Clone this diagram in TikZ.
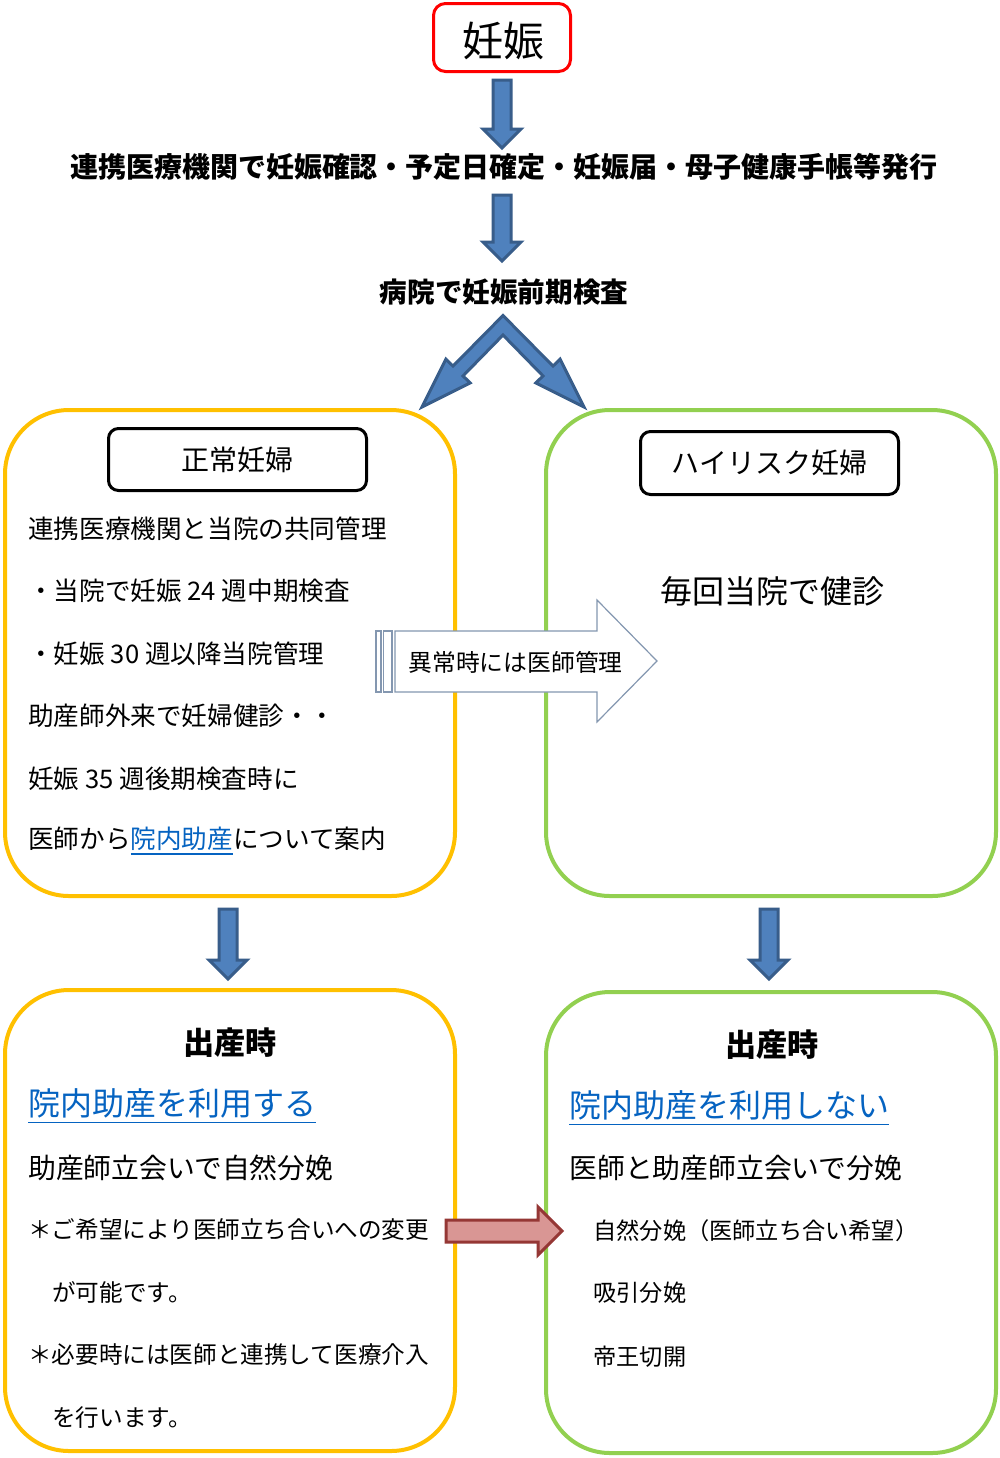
\documentclass[tikz,border=0pt]{standalone}
\usepackage{fontspec}
\setmainfont{Noto Sans CJK JP}
\definecolor{orangeb}{HTML}{FFC000}
\definecolor{greenb}{HTML}{92D050}
\definecolor{bluef}{HTML}{4F81BD}
\definecolor{blued}{HTML}{385D8A}
\definecolor{linkc}{HTML}{0563C1}
\definecolor{redf}{HTML}{D99694}
\definecolor{redd}{HTML}{953735}
\definecolor{grayarrow}{HTML}{8497B0}
\newcommand\fsz[1]{\fontsize{#1}{#1}\selectfont}
\newcommand\ulx[2]{\setbox0\hbox{#2}\rlap{\raisebox{-#1}{\rule{\wd0}{0.9pt}}}\box0}
\newcommand\bluedown[3]{%
  \draw[blockarrow] (#1-9,#2) -- (#1+9,#2) -- (#1+9,#3-19) -- (#1+19,#3-19) -- (#1,#3)
    -- (#1-19,#3-19) -- (#1-9,#3-19) -- cycle;}
\begin{document}
\begin{tikzpicture}[x=0.5pt,y=-0.5pt,
  bigbox/.style={draw, line width=2pt, rounded corners=32pt, minimum width=225pt, inner sep=0pt},
  labelbox/.style={draw=black, line width=1.5pt, rounded corners=5pt, minimum width=129pt, inner sep=0pt, font=\fsz{14}},
  blockarrow/.style={fill=bluef, draw=blued, line width=1.5pt, line join=miter},
  txt/.style={anchor=west, inner sep=0pt},
  ctxt/.style={anchor=center, inner sep=0pt},
  link/.style={text=linkc}]
\useasboundingbox (0,0) rectangle (1000,1458);
\fill[white] (0,0) rectangle (1000,1458);

% top
\node[draw=red, line width=1.5pt, rounded corners=6pt, minimum width=68.5pt, minimum height=34pt, inner sep=0pt] (top) at (502,37.5) {};
\node[ctxt, font=\fsz{20.5}] (toptext) at (503,41) {妊娠};
\bluedown{502}{80}{148}
\node[ctxt, font=\fsz{14}\bfseries] (l1) at (504,167) {連携医療機関で妊娠確認・予定日確定・妊娠届・母子健康手帳等発行};
\bluedown{502}{195}{261}
\node[ctxt, font=\fsz{13.8}\bfseries] (l2) at (504,292) {病院で妊娠前期検査};

% chevron arrow
\draw[blockarrow] (503,315.5) -- (553,366.1) -- (560.1,359.1) -- (584,407) -- (535.9,382.9)
  -- (543,375.9) -- (503,335) -- (463,375.9) -- (470.1,382.9) -- (422,407)
  -- (445.9,359.1) -- (453,366.1) -- cycle;

% big boxes
\node[bigbox, draw=orangeb, minimum height=243pt] (lbox) at (230,653) {};
\node[bigbox, draw=greenb, minimum height=243pt] (rbox) at (771,653) {};
\node[bigbox, draw=orangeb, minimum height=230.5pt] (lbox2) at (230,1220.5) {};
\node[bigbox, draw=greenb, minimum height=230.5pt] (rbox2) at (771,1222.5) {};

\node[labelbox, minimum height=31pt] (normal) at (237.5,459.5) {\raisebox{-1pt}{正常妊婦}};
\node[labelbox, minimum height=31.5pt] (high) at (769.5,463) {\raisebox{-1pt}{ハイリスク妊婦}};

% left top text
\begin{scope}[every node/.style={txt, font=\fsz{12.8}}]
\node (a1) at (28,529) {連携医療機関と当院の共同管理};
\node (a2) at (28,591) {・当院で妊娠 24 週中期検査};
\node (a3) at (28,654) {・妊娠 30 週以降当院管理};
\node (a4) at (28,716) {助産師外来で妊婦健診・・};
\node (a5) at (28,779) {妊娠 35 週後期検査時に};
\node (a6) at (28,841) {医師から{\color{linkc}\ulx{3pt}{院内助産}}について案内};
\end{scope}
\node[ctxt, font=\fsz{16}] (every) at (772,591) {毎回当院で健診};

% middle arrow
\draw[grayarrow, fill=white, line width=0.6pt] (376,631) rectangle (381,692);
\draw[grayarrow, fill=white, line width=0.6pt] (383.5,631) rectangle (392,692);
\draw[grayarrow, fill=white, line width=0.6pt, line join=miter] (395,631) -- (597,631) -- (597,600)
  -- (657,661) -- (597,722) -- (597,692) -- (395,692) -- cycle;
\node[txt, font=\fsz{11.9}] (abn) at (408,662) {異常時には医師管理};

% down arrows
\bluedown{228}{909}{979}
\bluedown{769}{909}{979}

% bottom left text
\node[ctxt, font=\fsz{15.6}\bfseries] (b0) at (230,1043) {出産時};
\node[txt, font=\fsz{16}, link] (b1) at (28,1106) {\ulx{4pt}{院内助産を利用する}};
\node[txt, font=\fsz{13.9}] (b2) at (28,1168) {助産師立会いで自然分娩};
\begin{scope}[every node/.style={txt, font=\fsz{11.8}}]
\node (b3) at (28,1230) {＊ご希望により医師立ち合いへの変更};
\node (b4) at (52,1292) {が可能です。};
\node (b5) at (28,1355) {＊必要時には医師と連携して医療介入};
\node (b6) at (52,1418) {を行います。};
\end{scope}

% bottom right text
\node[ctxt, font=\fsz{15.6}\bfseries] (c0) at (772,1045) {出産時};
\node[txt, font=\fsz{16}, link] (c1) at (569,1108) {\ulx{4pt}{院内助産を利用しない}};
\node[txt, font=\fsz{13.9}] (c2) at (569,1168) {医師と助産師立会いで分娩};
\begin{scope}[every node/.style={txt, font=\fsz{11.6}}]
\node (c3) at (593,1231) {自然分娩（医師立ち合い希望）};
\node (c4) at (593,1293) {吸引分娩};
\node (c5) at (593,1357) {帝王切開};
\end{scope}

% red arrow
\draw[fill=redf, draw=redd, line width=1.5pt, line join=miter] (446,1220) -- (538,1220) -- (538,1207)
  -- (562,1231) -- (538,1255) -- (538,1242) -- (446,1242) -- cycle;
\end{tikzpicture}
\end{document}
